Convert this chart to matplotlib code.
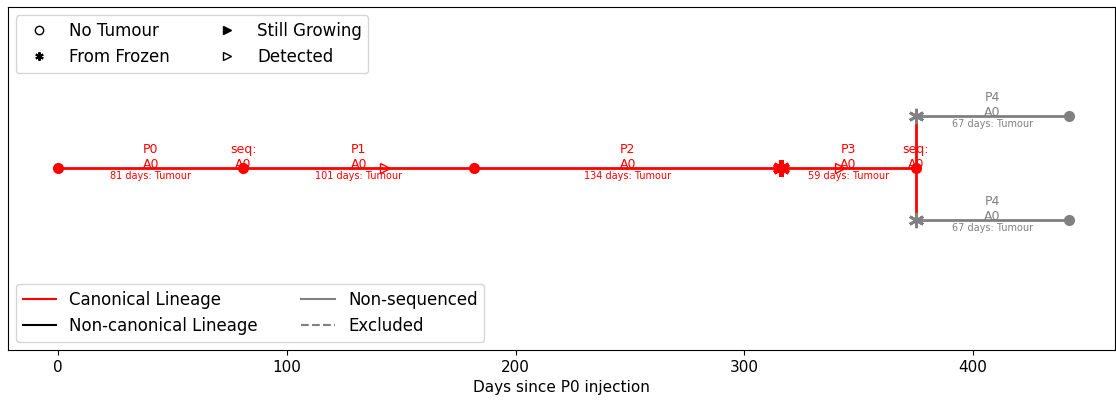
import matplotlib
matplotlib.use("Agg")
import matplotlib.pyplot as plt
from matplotlib.lines import Line2D

# passages on the canonical lineage
passages = ['P0', 'P1', 'P2', 'P3']
starts = [0, 81, 182, 316]
durations = [81, 101, 134, 59]
outcomes = ['Tumour', 'Tumour', 'Tumour', 'Tumour']
seq_days = [81, 375]
detected_days = [143, 342]
frozen_days = [316]

# non-sequenced branches
branch_name = 'P4'
branch_start = 375
branch_duration = 67
branch_levels = [1, -1]

fig, ax = plt.subplots(figsize=(11.16, 4.08), dpi=100)
fig.subplots_adjust(left=0.007, right=0.999, top=0.983, bottom=0.142)

red = 'red'
grey = 'grey'

for p, s, d, o in zip(passages, starts, durations, outcomes):
    e = s + d
    ax.plot([s, e], [0, 0], color=red, lw=2, zorder=2)
    mid = (s + e) / 2
    ax.text(mid, -0.05, p + '\nA0', color=red, ha='center', va='bottom', fontsize=9)
    ax.text(mid, -0.05, f'{d} days: {o}', color=red, ha='center', va='top', fontsize=7)

# end points
ax.plot([0, 81, 182, 375], [0, 0, 0, 0], 'o', color=red, ms=7, zorder=3)
ax.plot(frozen_days, [0] * len(frozen_days), marker=(6, 2, 0), ls='none',
        color=red, ms=12, mew=3, zorder=3)
ax.plot(detected_days, [0] * len(detected_days), '>', color=red, ms=7,
        mfc='none', mew=1, zorder=3)
for sd in seq_days:
    ax.text(sd, -0.05, 'seq:\nA0', color=red, ha='center', va='bottom', fontsize=9)

# branches
for lv in branch_levels:
    be = branch_start + branch_duration
    ax.plot([branch_start, be], [lv, lv], color=grey, lw=2, zorder=2)
    ax.plot([be], [lv], 'o', color=grey, ms=7, zorder=3)
    ax.plot([branch_start], [lv], marker=(6, 2, 0), ls='none', color=grey,
            ms=11, mew=2, zorder=3)
    mid = (branch_start + be) / 2
    ax.text(mid, lv - 0.05, branch_name + '\nA0', color=grey, ha='center',
            va='bottom', fontsize=9)
    ax.text(mid, lv - 0.05, f'{branch_duration} days: Tumour', color=grey,
            ha='center', va='top', fontsize=7)
ax.plot([branch_start, branch_start], [min(branch_levels), max(branch_levels)],
        color=red, lw=2, zorder=2)

ax.set_xlim(-22, 462)
ax.set_ylim(-3.5, 3.1)
ax.set_yticks([])
ax.set_xticks([0, 100, 200, 300, 400])
ax.set_xlabel('Days since P0 injection', fontsize=11)
ax.tick_params(axis='x', labelsize=11)

marker_handles = [
    Line2D([], [], ls='none', marker='o', mfc='none', mec='black', ms=6, label='No Tumour'),
    Line2D([], [], ls='none', marker=(6, 2, 0), color='black', ms=6, mew=1.5, label='From Frozen'),
    Line2D([], [], ls='none', marker='>', color='black', ms=6, label='Still Growing'),
    Line2D([], [], ls='none', marker='>', mfc='none', mec='black', ms=6, label='Detected'),
]
leg1 = ax.legend(handles=marker_handles, ncol=2, loc='upper left', fontsize=12,
                 columnspacing=2.4)
ax.add_artist(leg1)

line_handles = [
    Line2D([], [], color='red', label='Canonical Lineage'),
    Line2D([], [], color='black', label='Non-canonical Lineage'),
    Line2D([], [], color='grey', label='Non-sequenced'),
    Line2D([], [], color='grey', ls='--', label='Excluded'),
]
ax.legend(handles=line_handles, ncol=2, loc='lower left', fontsize=12,
          columnspacing=2.6)

plt.savefig('out.png', dpi=100)
